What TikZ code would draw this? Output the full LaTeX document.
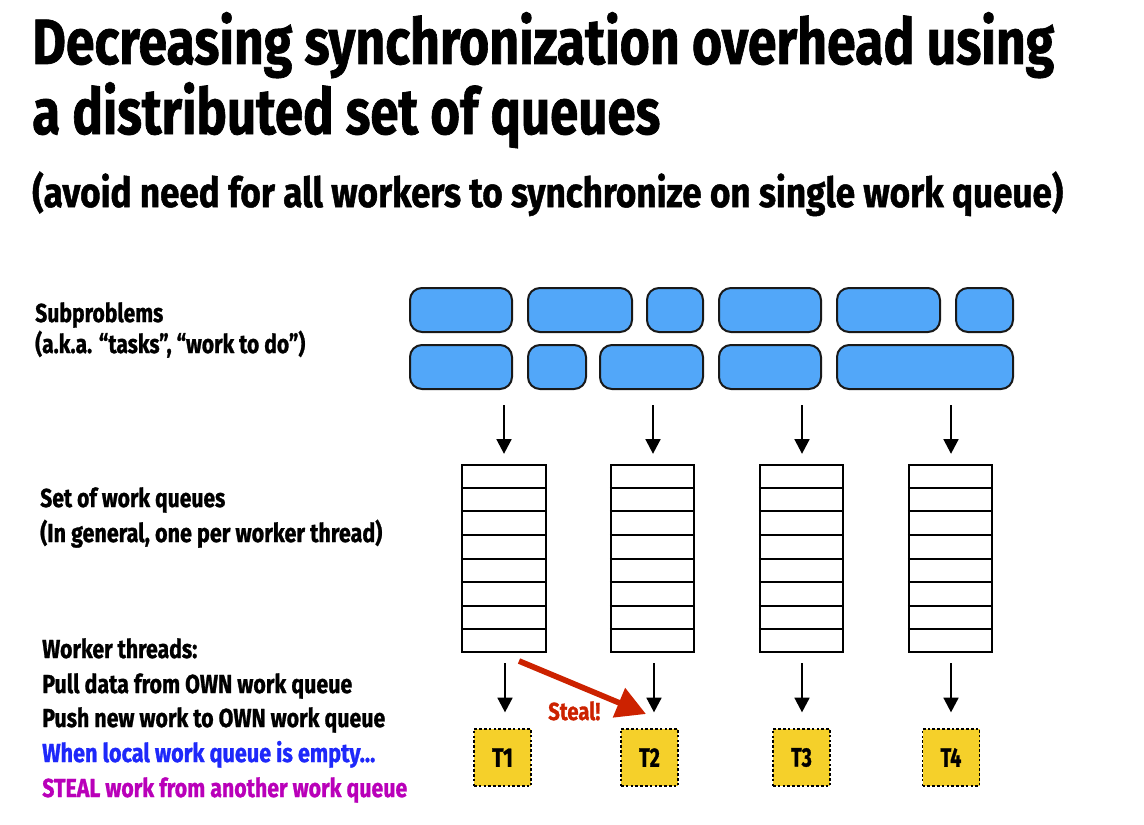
\documentclass[tikz,border=0pt]{standalone}
\usepackage{fontspec}
\setmainfont[BoldFeatures={FakeBold=1.2}]{Fira Sans}
\usepackage{graphicx}
\usetikzlibrary{arrows.meta,fit,calc}
\definecolor{subblue}{RGB}{82,167,249}
\definecolor{tyellow}{RGB}{245,208,42}
\definecolor{stealred}{RGB}{204,34,0}
\definecolor{txtblue}{RGB}{30,40,250}
\definecolor{txtmag}{RGB}{185,0,185}
\newcommand\fitw[2]{\resizebox{#1}{\height}{#2}}
\begin{document}
\begin{tikzpicture}[x=0.75pt,y=-0.75pt,
  txt/.style={anchor=base west, inner sep=0pt},
  titlef/.style={font=\fontsize{48}{56}\selectfont\bfseries},
  subf/.style={font=\fontsize{31}{37}\selectfont\bfseries},
  labf/.style={font=\fontsize{19.5}{23}\selectfont\bfseries},
  sub/.style={draw=black!90, line width=1.5pt, fill=subblue, rounded corners=9pt, inner sep=0pt},
  queue/.style={draw=black, line width=1.7pt, fill=white, inner sep=0pt},
  qline/.style={draw=black, line width=1.5pt},
  tbox/.style={draw=black, line width=0.9pt, dash pattern=on 2pt off 1.6pt, fill=tyellow,
    minimum width=42.75pt, minimum height=42.75pt, inner sep=0pt,
    font=\fontsize{20}{24}\selectfont\bfseries},
  arr/.style={draw=black, line width=1.9pt, -{Triangle[length=11pt,width=11pt]}},
  stealarr/.style={draw=stealred, line width=4.3pt, -{Triangle[length=22pt,width=23pt]}}
]
\useasboundingbox (0,0) rectangle (1144,824);

% titles
\node[txt, titlef] (title1) at (32,64) {\fitw{766.5pt}{Decreasing synchronization overhead using}};
\node[txt, titlef] (title2) at (32,134) {\fitw{471pt}{a distributed set of queues}};
\node[txt, subf] (subtitle) at (32,207) {\fitw{773.25pt}{(avoid need for all workers to synchronize on single work queue)}};

% left labels
\node[txt, labf] (l1) at (35,322) {\fitw{96pt}{Subproblems}};
\node[txt, labf] (l2) at (35,353) {\fitw{202.5pt}{(a.k.a. “tasks”, “work to do”)}};
\node[txt, labf] (l3) at (40,507) {\fitw{138.75pt}{Set of work queues}};
\node[txt, labf] (l4) at (40,542) {\fitw{256.5pt}{(In general, one per worker thread)}};
\node[txt, labf] (l5) at (42,658) {\fitw{116.25pt}{Worker threads:}};
\node[txt, labf] (l6) at (42,693) {\fitw{232.5pt}{Pull data from OWN work queue}};
\node[txt, labf] (l7) at (42,727) {\fitw{257.25pt}{Push new work to OWN work queue}};
\node[txt, labf, text=txtblue] (l8) at (42,762) {\fitw{249.75pt}{When local work queue is empty...}};
\node[txt, labf, text=txtmag] (l9) at (42,797) {\fitw{273.75pt}{STEAL work from another work queue}};

% subproblem boxes, row 1
\node[sub, fit={(410,288) (512,332)}] (s1) {};
\node[sub, fit={(528,288) (632,332)}] (s2) {};
\node[sub, fit={(647,288) (703,332)}] (s3) {};
\node[sub, fit={(719,288) (821,332)}] (s4) {};
\node[sub, fit={(837,288) (940,332)}] (s5) {};
\node[sub, fit={(956,288) (1013,332)}] (s6) {};
% row 2
\node[sub, fit={(410,345) (512,389)}] (s7) {};
\node[sub, fit={(528,345) (586,389)}] (s8) {};
\node[sub, fit={(600,345) (703,389)}] (s9) {};
\node[sub, fit={(719,345) (821,389)}] (s10) {};
\node[sub, fit={(837,345) (1013,389)}] (s11) {};

% queues
\node[queue, fit={(462,465) (546,652)}] (q1) {};
\node[queue, fit={(611,465) (694,652)}] (q2) {};
\node[queue, fit={(760,465) (843,652)}] (q3) {};
\node[queue, fit={(909,465) (992,652)}] (q4) {};
\foreach \q in {q1,q2,q3,q4}{
  \foreach \k in {1,...,7}{
    \draw[qline] ($(\q.north west)!\k/8!(\q.south west)$) -- ($(\q.north east)!\k/8!(\q.south east)$);
  }
}

% incoming arrows
\foreach \q/\x in {q1/504,q2/653,q3/802,q4/951}{
  \coordinate (in\q) at (\x,405);
  \draw[arr, shorten >=7.5pt] (in\q) -- (in\q |- \q.north);
}

% worker threads
\node[tbox] (t1) at (502.5,757.5) {\fitw{15.5pt}{T1}};
\node[tbox] (t2) at (649.5,757.5) {\fitw{15.5pt}{T2}};
\node[tbox] (t3) at (801.5,757.5) {\fitw{15.5pt}{T3}};
\node[tbox] (t4) at (951,757.5) {\fitw{15.5pt}{T4}};

\foreach \q/\t/\x in {q1/t1/505,q2/t2/654,q3/t3/802,q4/t4/951}{
  \coordinate (out\q) at (\x,652);
  \draw[arr, shorten <=8.25pt, shorten >=12pt] (out\q) -- (out\q |- \t.north);
}

% steal
\coordinate (stealA) at (519,661);
\coordinate (stealB) at (646,714);
\draw[stealarr] (stealA) -- (stealB);
\node[txt, font=\fontsize{18.5}{22}\selectfont\bfseries, text=stealred] (steal) at (548,720) {\fitw{39pt}{Steal!}};
\end{tikzpicture}
\end{document}
